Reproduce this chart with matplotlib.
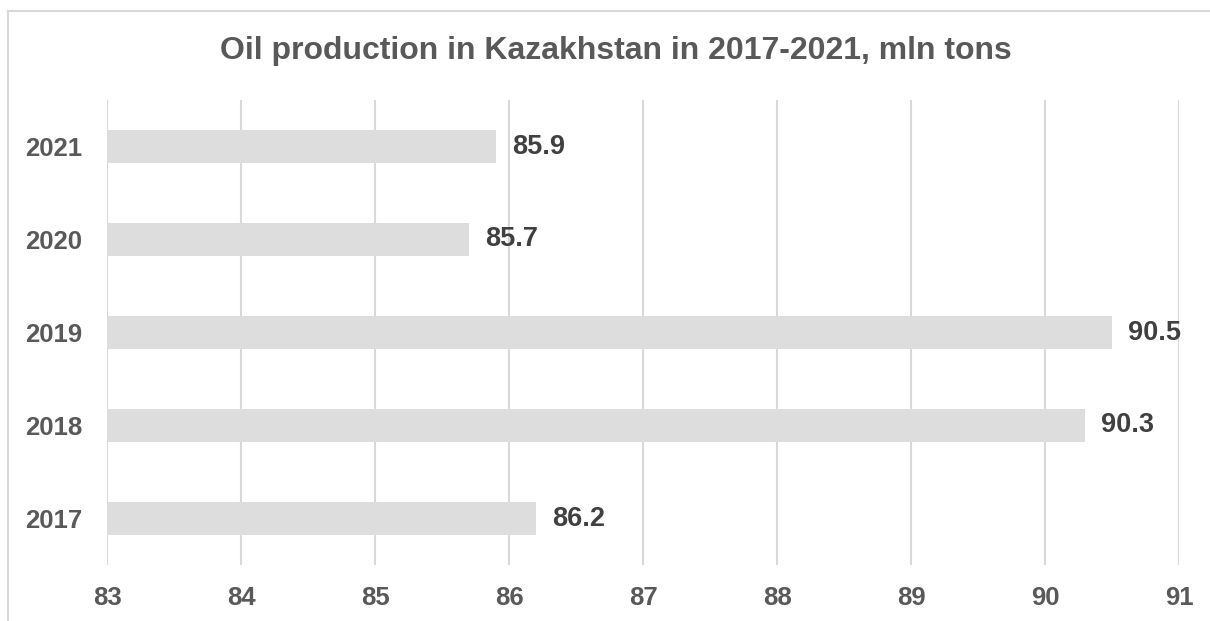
import matplotlib.pyplot as plt
from matplotlib.lines import Line2D

years = ['2017', '2018', '2019', '2020', '2021']
production = [86.2, 90.3, 90.5, 85.7, 85.9]
x_ticks = [83, 84, 85, 86, 87, 88, 89, 90, 91]

plt.rcParams['font.family'] = ['Liberation Sans', 'DejaVu Sans']

W, H = 1210, 621
fig = plt.figure(figsize=(W / 100, H / 100), dpi=100)
ax = fig.add_axes([107 / W, 1 - 565 / H, (1179 - 107) / W, (565 - 100) / H])

# outer frame, only top and left edges show (cut off like the source)
fx, fy = 7.5 / W, 1 - 10.5 / H
fig.lines.append(Line2D([fx, 1.05], [fy, fy], transform=fig.transFigure,
                        color='#d9d9d9', linewidth=1.5))
fig.lines.append(Line2D([fx, fx], [-0.05, fy], transform=fig.transFigure,
                        color='#d9d9d9', linewidth=1.5))

ax.barh(years, [v - 83 for v in production], left=83, height=0.355,
        color='#dddddd', zorder=2)
for i, v in enumerate(production):
    ax.text(v + 0.12, i, f'{v}', va='center', ha='left', fontsize=19.5,
            fontweight='bold', color='#404040')

ax.set_xlim(83, 91)
ax.set_ylim(-0.5, 4.5)
ax.set_xticks(x_ticks)
ax.set_xticklabels([str(t) for t in x_ticks])
ax.grid(axis='x', color='#d9d9d9', linewidth=1.5, zorder=0)
ax.tick_params(axis='both', length=0, labelsize=18.5, labelcolor='#595959')
ax.tick_params(axis='x', pad=15)
ax.tick_params(axis='y', pad=18)
for lbl in ax.get_xticklabels() + ax.get_yticklabels():
    lbl.set_fontweight('bold')
for s in ax.spines.values():
    s.set_visible(False)

fig.text(616 / W, 1 - 51 / H, 'Oil production in Kazakhstan in 2017-2021, mln tons',
         ha='center', va='center', fontsize=23, fontweight='bold', color='#595959')

fig.savefig('out.png', dpi=100, facecolor='white')
